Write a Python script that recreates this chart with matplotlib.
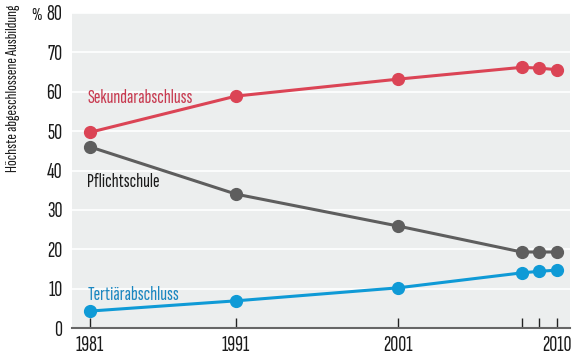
import numpy as np
import matplotlib
matplotlib.use("Agg")
import matplotlib.pyplot as plt

years = [1981, 1991, 2001, 2008, 2009, 2010]
sekundar = [49.7, 58.9, 63.2, 66.2, 66.0, 65.6]
pflicht = [46.0, 34.0, 25.9, 19.3, 19.3, 19.3]
tertiaer = [4.3, 6.9, 10.2, 14.0, 14.4, 14.7]
tick_years = [1981, 1991, 2001, 2008, 2009, 2010]
tick_labels = ["1981", "1991", "2001", "", "", "2010"]
yticks = [0, 10, 20, 30, 40, 50, 60, 70, 80]

plt.rcParams['font.family'] = ['Sofia Sans Extra Condensed', 'Barlow Condensed', 'DejaVu Sans']

red = "#db4455"
gray = "#5e5e5e"
blue = "#0f9ad6"
txt = "#1a1a1a"

# piecewise axis (the original axis is not proportional)
ax_years = np.array([1960.0, 1981, 1991, 2001, 2010, 2030])
ax_pos = np.array([-306.6, 0, 146, 308, 467, 821])
def fwd(x):
    return np.interp(x, ax_years, ax_pos)
def inv(p):
    return np.interp(p, ax_pos, ax_years)

fig = plt.figure(figsize=(5.74, 3.55), dpi=100)
ax = fig.add_axes([72/574, 27/355, 498/574, 315/355])
ax.set_facecolor("#eceeee")
ax.set_xscale('function', functions=(fwd, inv))
ax.set_xlim(inv(-18), inv(480))
ax.set_ylim(0, 80)

for v in yticks[1:]:
    ax.axhline(v, color="white", lw=1.2, zorder=1)

ms = 8.5
lw = 2.2
ax.plot(years, sekundar, color=red, lw=lw, marker='o', ms=ms, zorder=3, clip_on=False)
ax.plot(years, pflicht, color=gray, lw=lw, marker='o', ms=ms, zorder=3, clip_on=False)
ax.plot(years, tertiaer, color=blue, lw=lw, marker='o', ms=ms, zorder=3, clip_on=False)

lab_fs = 14.5
ax.text(0.031, 58.4/80, "Sekundarabschluss", color="#c83a50", fontsize=lab_fs, va='center', ha='left',
        transform=ax.transAxes)
ax.text(0.031, 37.2/80, "Pflichtschule", color=txt, fontsize=lab_fs, va='center', ha='left',
        transform=ax.transAxes)
ax.text(0.031, 8.3/80, "Tertiärabschluss", color="#1a86c0", fontsize=lab_fs, va='center', ha='left',
        transform=ax.transAxes)

for s in ['top', 'right', 'left']:
    ax.spines[s].set_visible(False)
ax.spines['bottom'].set_color("#666666")
ax.spines['bottom'].set_linewidth(1.5)

tick_fs = 16
ax.set_yticks(yticks)
ax.set_yticklabels([str(v) for v in yticks], fontsize=tick_fs, color=txt)
ax.tick_params(axis='y', length=0, pad=7)
ax.set_xticks(tick_years)
ax.set_xticklabels(tick_labels, fontsize=tick_fs, color=txt)
ax.tick_params(axis='x', direction='in', length=7, width=1, color="#222222", pad=6)

fig.text(37/574, 1 - 15/355, "%", fontsize=13, color=txt, ha='center', va='center')
fig.text(13/574, 1 - 4/355, "Höchste abgeschlossene Ausbildung", fontsize=12.2, color=txt, rotation=90,
         ha='center', va='top')

fig.savefig("out.png", dpi=100)
